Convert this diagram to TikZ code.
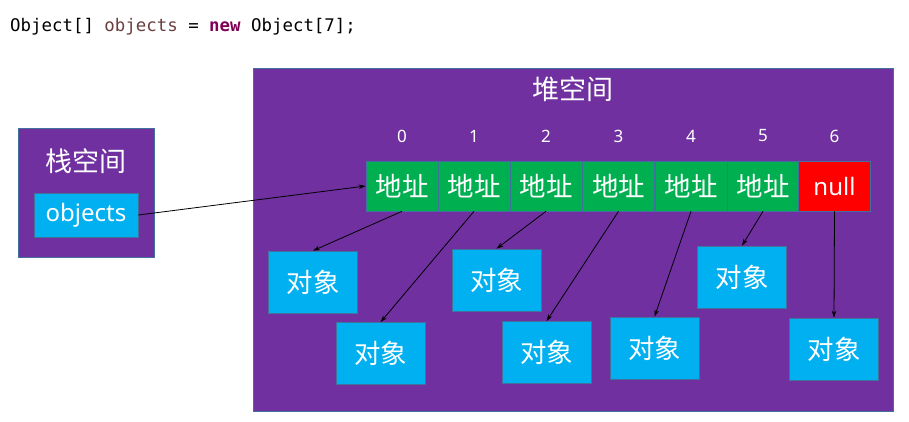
\documentclass[tikz,border=0pt]{standalone}
\usepackage{fontspec}
\setmainfont{Noto Sans}
\newfontfamily\cjk{Noto Sans CJK SC}
\newfontfamily\codefont{DejaVu Sans Mono}
\usetikzlibrary{arrows.meta}
\definecolor{heappurple}{HTML}{7030A0}
\definecolor{cellgreen}{HTML}{00B050}
\definecolor{objblue}{HTML}{00B0F0}
\definecolor{bordercol}{HTML}{41719C}
\definecolor{varbrown}{HTML}{6A3E3E}
\definecolor{kwpurple}{HTML}{7F0055}
\tikzset{
  area/.style={draw=bordercol, fill=heappurple, line width=0.8pt, inner sep=0pt},
  cellbox/.style={draw=bordercol, fill=cellgreen, line width=0.6pt, minimum width=72pt, minimum height=50pt, inner sep=0pt, text=white, font=\cjk\fontsize{26.5}{26.5}\selectfont},
  nullbox/.style={cellbox, fill=red, font=\fontsize{24}{24}\selectfont},
  objbox/.style={draw=bordercol, fill=objblue, line width=0.6pt, minimum width=89pt, minimum height=62pt, inner sep=0pt, text=white, font=\cjk\fontsize{26.5}{26.5}\selectfont},
  idx/.style={text=white, font=\fontsize{17}{17}\selectfont, inner sep=0pt},
  title/.style={text=white, font=\cjk\fontsize{27}{27}\selectfont, inner sep=0pt},
  ptr/.style={-{Stealth[length=7pt,width=4.5pt]}, line width=0.8pt, black}
}
\begin{document}
\begin{tikzpicture}[x=1pt,y=-1pt]
\useasboundingbox (0,0) rectangle (909,421);
% code line
\node[anchor=base west, inner sep=0pt, font=\codefont\fontsize{17.4}{17.4}\selectfont] (code) at (10,31.5)
  {Object[] \textcolor{varbrown}{objects} = \textcolor{kwpurple}{\bfseries new} Object[7];};
% stack
\node[area, minimum width=136pt, minimum height=129pt] (stack) at (86,192.5) {};
\node[title] (stacktitle) at (86,161) {栈空间};
\node[draw=bordercol, fill=objblue, line width=0.6pt, minimum width=104pt, minimum height=44pt, inner sep=0pt, text=white, font=\fontsize{24}{24}\selectfont] (objs) at (86,215) {objects};
% heap
\node[area, minimum width=640pt, minimum height=343pt] (heap) at (573,239.5) {};
\node[title] (heaptitle) at (573,89) {堆空间};
% indices and cells
\foreach \i/\x in {0/402,1/474,2/546,3/618.5,4/691,5/763,6/834.5} {
  \node[idx] (i\i) at (\x,136) {\i};
}
\foreach \i/\x in {0/402,1/474,2/546,3/618.5,4/691,5/763} {
  \node[cellbox] (c\i) at (\x,186) {地址};
}
\node[nullbox] (c6) at (834.5,186) {null};
% objects
\node[objbox] (oa) at (313,282) {对象};
\node[objbox] (ob) at (380.5,353.5) {对象};
\node[objbox] (oc) at (496.5,280) {对象};
\node[objbox] (od) at (546.5,352.5) {对象};
\node[objbox] (oe) at (654.5,348) {对象};
\node[objbox] (of) at (742,277) {对象};
\node[objbox] (og) at (834,349) {对象};
% pointers
\draw[ptr] (objs.east) -- (c0.west);
\draw[ptr] (c0.south) -- (oa.north);
\draw[ptr] (c1.south) -- (ob.north);
\draw[ptr] (c2.south) -- (oc.north);
\draw[ptr] (c3.south) -- (od.north);
\draw[ptr] (c4.south) -- (oe.north);
\draw[ptr] (c5.south) -- (of.north);
\draw[ptr] (c6.south) -- (og.north);
\end{tikzpicture}
\end{document}
